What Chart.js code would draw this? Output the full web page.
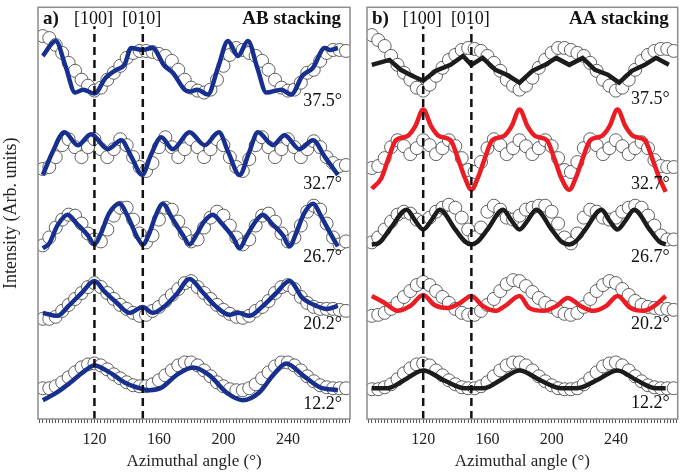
<!DOCTYPE html>
<html lang="en">
<head>
<meta charset="UTF-8">
<title>Azimuthal intensity profiles</title>
<script src="https://cdn.jsdelivr.net/npm/chart.js"></script>
<style>
  body { margin: 0; background: #fff; }
  .wrap { position: relative; width: 685px; height: 473px; }
  canvas { position: absolute; top: 0; }
  #panelA { left: 0; }
  #panelB { left: 358px; }
</style>
</head>
<body>
<div class="wrap">
  <canvas id="panelA" width="358" height="473"></canvas>
  <canvas id="panelB" width="327" height="473"></canvas>
</div>
<script>
// twist angles, top to bottom
const tiltLabels = ['37.5°', '32.7°', '26.7°', '20.2°', '12.2°'];
const tickLabels = [120, 160, 200, 240];
const directionLabels = ['[100]', '[010]'];
const directionAngles = [120, 150];

// vertical stacking offsets of each profile (arb. units)
const offsetsA = [324, 244, 171, 101, 17];
const offsetsB = [319, 229, 173, 101, 17];

// measured profiles (open circles), shared angle grid
const circleAngles = [88, 92, 96, 100, 104, 108, 112, 116, 120, 124, 128, 132, 136, 140, 144, 148,
  152, 156, 160, 164, 168, 172, 176, 180, 184, 188, 192, 196, 200, 204, 208, 212,
  216, 220, 224, 228, 232, 236, 240, 244, 248, 252, 256, 260, 264, 268, 272, 276];

const a375Meas = [62, 60, 53, 45, 35, 27, 18, 12, 7, 10, 18, 25, 32, 40, 45, 47, 47, 46, 44, 42, 37, 28, 18, 10,
  7, 5, 8, 18, 32, 43, 50, 48, 45, 42, 37, 28, 18, 10, 7, 8, 15, 25, 28, 37, 45, 48, 48, 47];
const a327Meas = [8, 10, 20, 32, 38, 30, 20, 30, 38, 28, 20, 28, 38, 32, 20, 10, 6, 14, 30, 40, 30, 20, 28, 38,
  30, 20, 28, 38, 32, 20, 10, 6, 18, 32, 40, 30, 20, 28, 38, 30, 20, 28, 36, 30, 20, 14, 11, 12];
const a267Meas = [4, 12, 22, 30, 35, 34, 26, 16, 10, 8, 20, 34, 42, 42, 30, 16, 7, 14, 30, 42, 40, 28, 16, 8,
  10, 22, 32, 38, 34, 24, 12, 5, 10, 24, 34, 36, 28, 16, 8, 12, 24, 38, 44, 40, 26, 12, 5, 8];
const a202Meas = [0, 0, 2, 8, 14, 20, 26, 32, 36, 32, 26, 20, 14, 10, 6, 3, 4, 8, 12, 18, 24, 30, 36, 38,
  32, 26, 20, 14, 9, 5, 2, 1, 3, 8, 12, 18, 26, 32, 34, 30, 22, 16, 12, 10, 10, 10, 9, 8];
const a122Meas = [14, 14, 16, 20, 25, 30, 35, 38, 39, 37, 33, 28, 24, 20, 17, 16, 16, 18, 22, 27, 32, 37, 40, 40,
  37, 32, 26, 20, 16, 13, 12, 12, 14, 18, 24, 30, 36, 40, 40, 37, 32, 26, 21, 17, 15, 14, 14, 14];

const b375Meas = [68, 63, 57, 47, 38, 30, 23, 15, 12, 18, 27, 35, 43, 48, 53, 55, 54, 52, 47, 40, 32, 23, 17, 13,
  17, 25, 35, 43, 50, 55, 55, 53, 50, 47, 40, 32, 23, 17, 12, 15, 23, 33, 42, 48, 52, 54, 54, 52];
const b327Meas = [24, 26, 34, 45, 52, 46, 38, 44, 52, 47, 38, 44, 52, 46, 34, 22, 20, 30, 44, 53, 47, 38, 44, 52,
  46, 38, 44, 52, 46, 34, 22, 20, 30, 44, 53, 47, 38, 44, 52, 46, 38, 44, 50, 44, 32, 26, 25, 25];
const b267Meas = [5, 10, 18, 26, 33, 36, 34, 28, 26, 30, 36, 40, 43, 40, 30, 18, 10, 20, 36, 42, 38, 30, 28, 32,
  38, 40, 42, 42, 36, 24, 10, 4, 14, 30, 38, 36, 30, 28, 30, 36, 40, 42, 40, 32, 22, 12, 8, 8];
const b202Meas = [3, 4, 6, 10, 16, 22, 28, 34, 37, 34, 28, 22, 16, 10, 6, 4, 4, 8, 14, 20, 28, 35, 39, 38,
  33, 27, 21, 16, 12, 8, 5, 4, 6, 12, 20, 28, 34, 38, 36, 30, 24, 18, 14, 12, 11, 10, 10, 9];
const b122Meas = [13, 13, 15, 18, 23, 29, 34, 38, 39, 37, 32, 27, 22, 18, 15, 14, 14, 16, 20, 26, 32, 37, 40, 40,
  37, 32, 26, 21, 17, 14, 13, 13, 14, 18, 24, 30, 36, 39, 40, 37, 32, 26, 21, 17, 15, 14, 14, 14];

// simulated profiles (solid lines)
const a375SimX = [88, 96, 102, 108, 113, 120, 127, 133.5, 138.6, 142.8, 150, 156, 163.4, 168.6, 175.9, 179, 184,
  190.3, 196.6, 202.8, 209, 215.2, 221, 226.6, 235.9, 242, 249, 255.5, 262.8, 266, 271];
const a375SimY = [42, 57, 32, 5, 8, 4, 20, 28, 33, 50, 48, 50, 32, 25, 8, 6, 8,
  3, 30, 57, 42, 57, 30, 5, 8, 3, 22, 30, 50, 48, 50];
const a327SimX = [88, 94, 101.4, 109.7, 117.9, 128.3, 136.6, 143, 149.6, 155, 161.4, 168.6, 179, 188.3, 197.2,
  203, 210, 216, 221.4, 230.7, 237.9, 247.2, 255.5, 263, 271];
const a327SimY = [2, 25, 45, 32, 43, 28, 37, 20, 2, 22, 40, 28, 45, 32, 45,
  25, 2, 25, 45, 32, 42, 28, 37, 20, 2];
const a267SimX = [88, 92, 97, 103.4, 109, 116, 120, 124, 129, 135.5, 141, 146, 150, 154, 158, 162.4, 168, 175, 179,
  183, 188, 193.4, 199, 206, 210, 214, 219, 224.5, 230, 237, 241, 245, 250, 255.5, 261, 267, 271];
const a267SimY = [1, 6, 24, 35, 26, 14, 5, 16, 36, 46, 32, 14, 5, 16, 34, 46, 32, 14, 5,
  14, 28, 35, 26, 12, 1, 12, 26, 35, 26, 14, 3, 16, 36, 46, 32, 14, 3];
const a202SimX = [88, 97, 104, 112, 120, 126, 134, 141.7, 150, 156, 163, 171, 179, 187, 195, 203.8, 209, 216,
  224.5, 232.8, 241, 249, 257.6, 264, 271];
const a202SimY = [6, 3, 13, 26, 38, 28, 16, 6, 12, 6, 12, 25, 40, 27, 13, 4, 6, 3,
  13, 26, 38, 21, 13, 10, 13];
const a122SimX = [88, 96, 104.5, 112.8, 120, 129.3, 139.7, 146, 154, 162, 170.7, 181, 191.4, 201.7, 212,
  222.4, 230.7, 239, 249.3, 259.7, 271];
const a122SimY = [2, 9, 19, 30, 37, 30, 19, 15, 12, 15, 27, 35, 27, 10, 2,
  10, 27, 39, 27, 15, 12];

const b375SimX = [88, 99, 106, 113, 120, 128, 137, 144.8, 150, 157, 165, 172, 180, 188, 196, 202.8, 211, 219.3,
  227, 235, 242, 250, 258, 265, 273];
const b375SimY = [38, 43, 33, 27, 22, 32, 38, 47, 38, 45, 33, 28, 20, 32, 38, 45, 38, 45,
  33, 28, 20, 32, 38, 45, 38];
const b327SimX = [88, 94, 98, 103, 110, 115, 120, 125, 130, 137, 142, 146, 150, 154, 158, 163, 170, 175, 180,
  185, 190, 197, 202, 206, 211, 215, 219, 224, 231, 236, 241, 246, 251, 258, 263, 267, 271];
const b327SimY = [3, 14, 32, 52, 56, 66, 83, 66, 56, 52, 32, 14, 2, 14, 32, 52, 56, 66, 83,
  66, 56, 52, 32, 14, 2, 14, 32, 52, 56, 66, 83, 66, 56, 52, 32, 14, 0];
const b267SimX = [88, 92, 100, 109.7, 115, 120, 125, 130.3, 140, 146, 150, 154, 160, 169.7, 175, 180, 185, 190.4,
  200, 206, 211, 215, 221, 231, 236, 241, 246, 251.4, 261, 267, 271];
const b267SimY = [3, 4, 20, 38, 27, 18, 27, 38, 18, 6, 3, 6, 18, 38, 27, 18, 27, 38,
  18, 6, 3, 6, 18, 38, 27, 18, 27, 38, 18, 6, 3];
const b202SimX = [88, 96, 104, 112, 120, 127, 135, 143, 150, 157, 165, 171, 180, 186, 195, 203, 210, 218,
  226, 234, 241, 249, 257, 264, 271];
const b202SimY = [23, 16, 8, 13, 24, 14, 11, 16, 23, 13, 8, 13, 23, 11, 8, 13, 21, 13,
  8, 13, 23, 11, 8, 13, 23];
const b122SimX = [88, 98, 108, 120, 133, 146, 158, 168, 180, 193, 206, 216, 228, 241, 253, 265, 271];
const b122SimY = [14, 14, 22, 32, 22, 14, 14, 22, 32, 22, 14, 14, 22, 32, 22, 14, 14];

const BLUE = '#17308f', RED = '#ec1c24', BLACK = '#1c1c1c';

Chart.defaults.font.family = '"Liberation Serif", "Times New Roman", serif';
Chart.defaults.color = '#222';

function pts(xs, ys, off) {
  return xs.map((x, i) => ({ x: x, y: ys[i] + off }));
}

// frame, panel letters, direction labels and twist-angle labels
const annotate = {
  id: 'annotate',
  afterDatasetsDraw(chart, args, o) {
    const { ctx, chartArea: a, scales: { x, y } } = chart;
    ctx.save();
    ctx.strokeStyle = '#8c8c8c';
    ctx.lineWidth = 1.5;
    ctx.strokeRect(a.left, a.top, a.right - a.left, a.bottom - a.top);
    ctx.fillStyle = '#111';
    ctx.textBaseline = 'middle';
    ctx.font = 'bold 19px "Liberation Serif"';
    ctx.textAlign = 'left';
    ctx.fillText(o.letter, a.left + 5, a.top + 12);
    ctx.textAlign = 'right';
    ctx.fillText(o.stacking, a.right - 9, a.top + 12);
    ctx.font = '18px "Liberation Serif"';
    ctx.textAlign = 'center';
    directionLabels.forEach((t, i) => ctx.fillText(t, x.getPixelForValue(directionAngles[i]) - 1, a.top + 12));
    ctx.textAlign = 'right';
    tiltLabels.forEach((t, i) => ctx.fillText(t, a.right - 8, y.getPixelForValue(o.labelRows[i])));
    ctx.restore();
  }
};

function makePanel(id, panel) {
  const datasets = [];
  panel.meas.forEach((m, i) => {
    datasets.push({
      data: pts(circleAngles, m, panel.offsets[i]),
      showLine: false,
      pointRadius: 6.5,
      pointBackgroundColor: '#fff',
      pointBorderColor: '#3a3a3a',
      pointBorderWidth: 0.8,
      order: 2
    });
  });
  panel.sim.forEach((s, i) => {
    datasets.push({
      data: pts(s[0], s[1], panel.offsets[i]),
      showLine: true,
      borderColor: panel.colors[i],
      borderWidth: 4.5,
      pointRadius: 0,
      cubicInterpolationMode: panel.zigzag[i] ? 'default' : 'monotone',
      tension: 0,
      order: 1
    });
  });
  directionAngles.forEach(d => {
    datasets.push({
      data: [{ x: d, y: 0 }, { x: d, y: 396 }],
      showLine: true,
      borderColor: '#111',
      borderWidth: 2.5,
      borderDash: [8, 5],
      pointRadius: 0,
      order: 0
    });
  });

  return new Chart(document.getElementById(id), {
    type: 'scatter',
    data: { datasets: datasets },
    options: {
      responsive: false,
      animation: false,
      layout: { padding: panel.padding },
      plugins: {
        legend: { display: false },
        tooltip: { enabled: false },
        annotate: { letter: panel.letter, stacking: panel.stacking, labelRows: panel.labelRows }
      },
      scales: {
        x: {
          type: 'linear',
          min: 85,
          max: 278.5,
          afterBuildTicks: s => {
            const t = [];
            for (let v = 86; v <= 278; v += 2) t.push({ value: v });
            s.ticks = t;
          },
          afterFit: s => { s.height = 54; },
          ticks: {
            autoSkip: false,
            maxRotation: 0,
            padding: 7,
            font: { size: 16 },
            color: '#222',
            callback: v => tickLabels.includes(v) ? String(v) : ''
          },
          grid: { drawOnChartArea: false, tickLength: 4, color: '#555' },
          border: { display: false },
          title: {
            display: true,
            text: 'Azimuthal angle (°)',
            font: { size: 17 },
            color: '#222',
            padding: { top: 1, bottom: 1 }
          }
        },
        y: {
          min: 0,
          max: 415,
          display: panel.showY,
          afterFit: s => { if (panel.showY) s.width = 38; },
          ticks: { display: false },
          grid: { display: false },
          border: { display: false },
          title: {
            display: true,
            text: 'Intensity (Arb. units)',
            font: { size: 18 },
            color: '#222',
            padding: { top: 0, bottom: 0 }
          }
        }
      }
    },
    plugins: [annotate]
  });
}

makePanel('panelA', {
  letter: 'a)',
  stacking: 'AB stacking',
  showY: true,
  padding: { top: 4, right: 8, left: 0, bottom: 0 },
  offsets: offsetsA,
  labelRows: [320, 237, 163, 95, 15],
  meas: [a375Meas, a327Meas, a267Meas, a202Meas, a122Meas],
  sim: [[a375SimX, a375SimY], [a327SimX, a327SimY], [a267SimX, a267SimY], [a202SimX, a202SimY], [a122SimX, a122SimY]],
  colors: [BLUE, BLUE, BLUE, BLUE, BLUE],
  zigzag: [false, false, false, false, false]
});

makePanel('panelB', {
  letter: 'b)',
  stacking: 'AA stacking',
  showY: false,
  padding: { top: 4, right: 5, left: 9, bottom: 0 },
  offsets: offsetsB,
  labelRows: [322, 237, 163, 95, 16],
  meas: [b375Meas, b327Meas, b267Meas, b202Meas, b122Meas],
  sim: [[b375SimX, b375SimY], [b327SimX, b327SimY], [b267SimX, b267SimY], [b202SimX, b202SimY], [b122SimX, b122SimY]],
  colors: [BLACK, RED, BLACK, RED, BLACK],
  zigzag: [true, false, false, false, false]
});
</script>
</body>
</html>
